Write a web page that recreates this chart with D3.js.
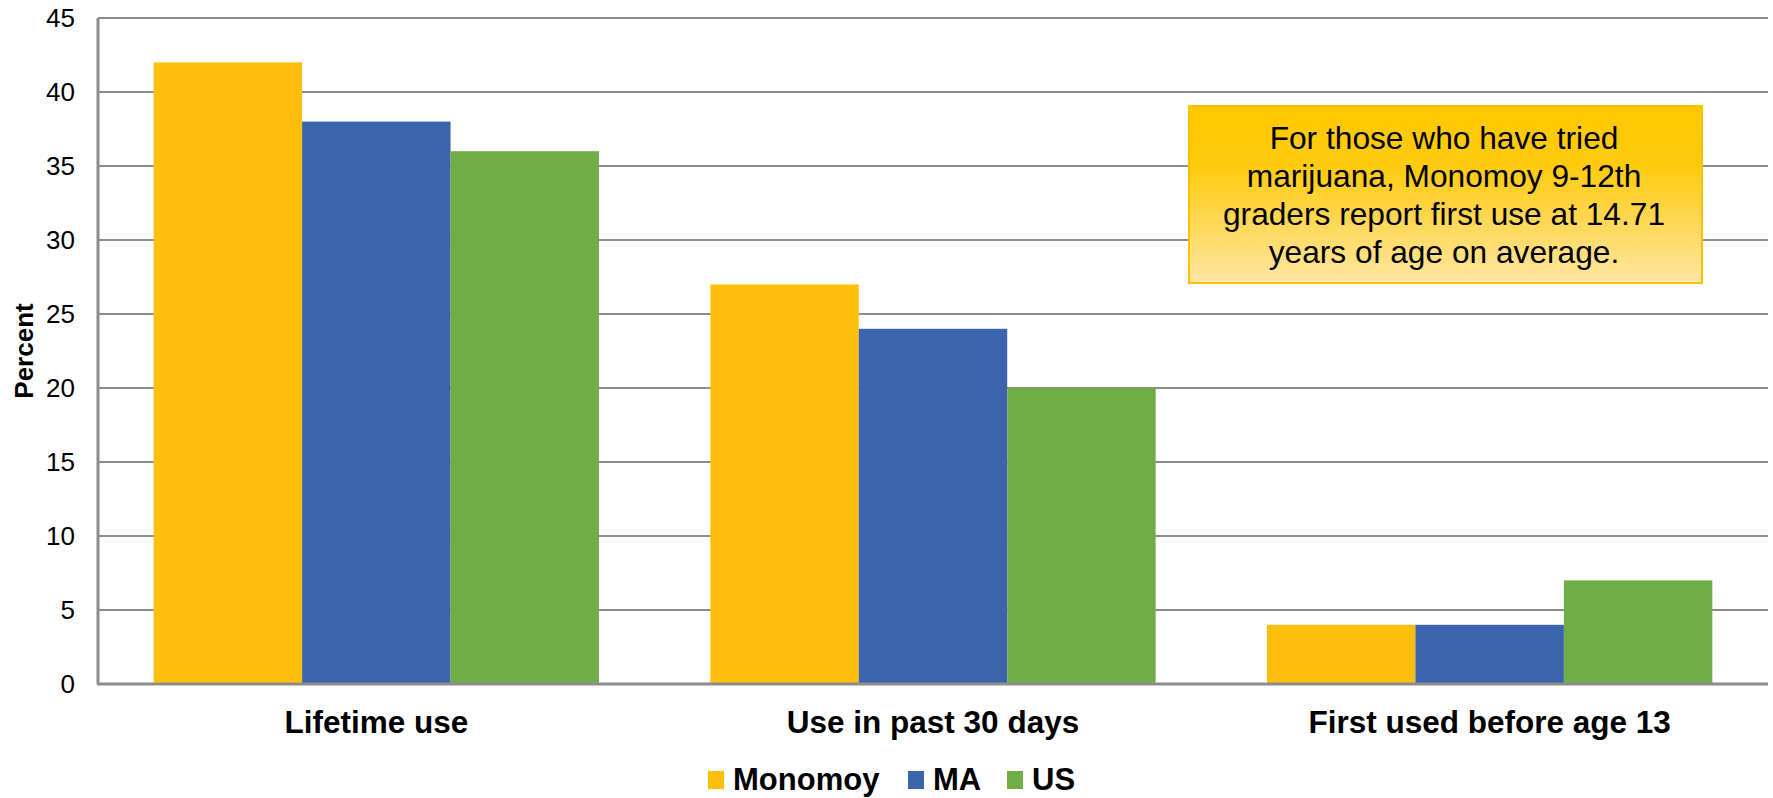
<!DOCTYPE html>
<html>
<head>
<meta charset="utf-8">
<script src="https://cdn.jsdelivr.net/npm/d3@7"></script>
<style>
  html, body { margin: 0; padding: 0; background: #fff; }
  svg { display: block; font-family: "Liberation Sans", Arial, sans-serif; }
</style>
</head>
<body>
<svg id="chart" width="1773" height="798"></svg>
<script>
const categories = ["Lifetime use", "Use in past 30 days", "First used before age 13"];
const seriesNames = ["Monomoy", "MA", "US"];
const monomoy = [42, 27, 4];
const ma = [38, 24, 4];
const us = [36, 20, 7];
const yTicks = [0, 5, 10, 15, 20, 25, 30, 35, 40, 45];
const colors = ["#FDBF0C", "#3B64AD", "#70AD47"];
const noteLines = [
  "For those who have tried",
  "marijuana, Monomoy 9-12th",
  "graders report first use at 14.71",
  "years of age on average."
];

(function () {
const seriesValues = [monomoy, ma, us];
const svg = d3.select("#chart");
const mLeft = 98, mRight = 1768, mTop = 18, mBottom = 684;

const x0 = d3.scaleBand().domain(categories).range([mLeft, mRight]).paddingInner(0.2).paddingOuter(0.1);
const x1 = d3.scaleBand().domain(seriesNames).range([0, x0.bandwidth()]).padding(0);
const y = d3.scaleLinear().domain([0, 45]).range([mBottom, mTop]);

// gridlines
svg.append("g").selectAll("line").data(yTicks.filter(d => d > 0)).join("line")
  .attr("x1", mLeft).attr("x2", mRight)
  .attr("y1", d => y(d)).attr("y2", d => y(d))
  .attr("stroke", "#8c8c8c").attr("stroke-width", 2);

// y tick labels
svg.append("g").selectAll("text").data(yTicks).join("text")
  .attr("x", 75).attr("y", d => y(d))
  .attr("dy", "0.35em")
  .attr("text-anchor", "end")
  .attr("font-size", 26)
  .attr("fill", "#000")
  .text(d => d);

// bars
const groups = svg.append("g").selectAll("g").data(categories).join("g")
  .attr("transform", d => `translate(${x0(d)},0)`);
groups.selectAll("rect").data((c, i) => seriesNames.map((s, j) => ({ s, j, v: seriesValues[j][i] })))
  .join("rect")
  .attr("x", d => x1(d.s))
  .attr("y", d => y(d.v))
  .attr("width", x1.bandwidth())
  .attr("height", d => y(0) - y(d.v))
  .attr("fill", d => colors[d.j]);

// axes lines
svg.append("line").attr("x1", mLeft).attr("x2", mLeft).attr("y1", mTop).attr("y2", mBottom)
  .attr("stroke", "#8c8c8c").attr("stroke-width", 3);
svg.append("line").attr("x1", mLeft - 1).attr("x2", mRight).attr("y1", mBottom).attr("y2", mBottom)
  .attr("stroke", "#8c8c8c").attr("stroke-width", 3);

// category labels
svg.append("g").selectAll("text").data(categories).join("text")
  .attr("x", d => x0(d) + x0.bandwidth() / 2)
  .attr("y", 733)
  .attr("text-anchor", "middle")
  .attr("font-size", 31.5)
  .attr("font-weight", "bold")
  .text(d => d);

// y axis title
svg.append("text")
  .attr("transform", `translate(33,${(mTop + mBottom) / 2}) rotate(-90)`)
  .attr("text-anchor", "middle")
  .attr("font-size", 26)
  .attr("font-weight", "bold")
  .text("Percent");

// annotation box
const defs = svg.append("defs");
const grad = defs.append("linearGradient").attr("id", "noteGrad")
  .attr("x1", 0).attr("y1", 0).attr("x2", 0).attr("y2", 1);
grad.append("stop").attr("offset", "0%").attr("stop-color", "#FFC800");
grad.append("stop").attr("offset", "35%").attr("stop-color", "#FFCB10");
grad.append("stop").attr("offset", "100%").attr("stop-color", "#FFE6A3");
const bx = 1189, by = 106, bw = 513, bh = 177;
svg.append("rect").attr("x", bx).attr("y", by).attr("width", bw).attr("height", bh)
  .attr("fill", "url(#noteGrad)").attr("stroke", "#FFC000").attr("stroke-width", 2);
svg.append("g").selectAll("text").data(noteLines).join("text")
  .attr("x", 1444)
  .attr("y", (d, i) => 149 + i * 38)
  .attr("text-anchor", "middle")
  .attr("font-size", 31.7)
  .attr("fill", "#000")
  .text(d => d);

// legend
const legendX = [708, 908, 1007];
const lg = svg.append("g").selectAll("g").data(seriesNames).join("g")
  .attr("transform", (d, i) => `translate(${legendX[i]},0)`);
lg.append("rect").attr("x", 0).attr("y", 771).attr("width", 16).attr("height", 18)
  .attr("fill", (d, i) => colors[i]);
lg.append("text").attr("x", 25).attr("y", 790)
  .attr("font-size", 31)
  .attr("font-weight", "bold")
  .text(d => d);
})();
</script>
</body>
</html>
